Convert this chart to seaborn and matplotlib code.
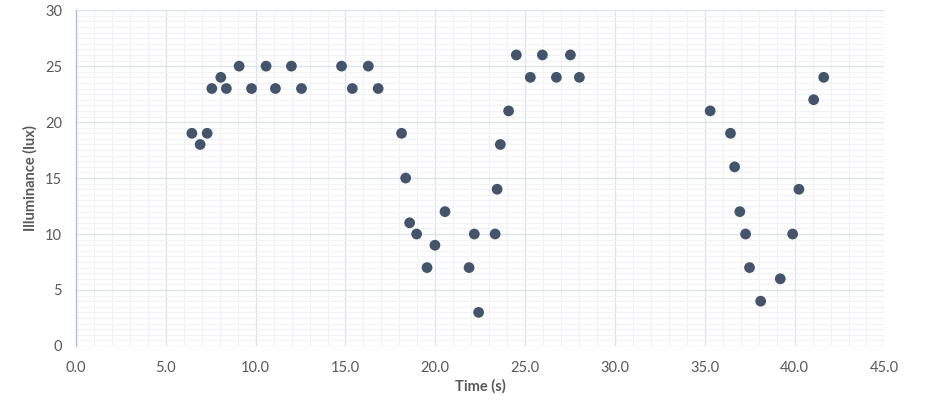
import matplotlib
matplotlib.use("Agg")
import matplotlib.pyplot as plt
import seaborn as sns
import pandas as pd
from matplotlib.ticker import MultipleLocator, FormatStrFormatter

time_s = [6.45, 6.91, 7.30, 7.56, 8.06, 8.37, 9.08, 9.77, 10.58, 11.10, 11.99, 12.55,
          14.78, 15.38, 16.27, 16.82, 18.12, 18.35, 18.57, 18.96, 19.54, 19.98, 20.54,
          21.88, 22.17, 22.41, 23.33, 23.44, 23.62, 24.08, 24.51, 25.29, 25.96, 26.74,
          27.52, 28.02, 35.30, 36.43, 36.66, 36.95, 37.27, 37.49, 38.11, 39.20, 39.89,
          40.24, 41.06, 41.62]
illuminance = [19, 18, 19, 23, 24, 23, 25, 23, 25, 23, 25, 23,
               25, 23, 25, 23, 19, 15, 11, 10, 7, 9, 12,
               7, 10, 3, 10, 14, 18, 21, 26, 24, 26, 24,
               26, 24, 21, 19, 16, 12, 10, 7, 4, 6, 10,
               14, 22, 24]

df = pd.DataFrame({"Time (s)": time_s, "Illuminance (lux)": illuminance})

sns.set_theme(style="white")
plt.rcParams["font.family"] = ["Lato", "DejaVu Sans"]

fig = plt.figure(figsize=(9.5, 4.07), dpi=100)
ax = fig.add_axes([0.080, 0.150, 0.851, 0.825])

sns.scatterplot(data=df, x="Time (s)", y="Illuminance (lux)", ax=ax,
                color="#44546A", s=60, edgecolor="none", zorder=3)

ax.set_xlim(0, 45)
ax.set_ylim(0, 30)
ax.xaxis.set_major_locator(MultipleLocator(5))
ax.xaxis.set_minor_locator(MultipleLocator(1))
ax.yaxis.set_major_locator(MultipleLocator(5))
ax.yaxis.set_minor_locator(MultipleLocator(0.5))
ax.xaxis.set_major_formatter(FormatStrFormatter("%.1f"))

ax.grid(which="major", color="#DEE2EA", linewidth=1.0, zorder=0)
ax.grid(which="minor", color="#F1F2F5", linewidth=0.8, zorder=0)
ax.set_axisbelow(True)

for side in ["top", "right", "bottom"]:
    ax.spines[side].set_visible(False)
ax.spines["left"].set_color("#B4C0D3")
ax.spines["left"].set_linewidth(1.0)

ax.tick_params(axis="both", which="both", length=0, labelsize=10.5,
               labelcolor="#595959")
ax.tick_params(axis="x", pad=11)
ax.tick_params(axis="y", pad=10)

ax.set_xlabel("Time (s)", fontsize=10.5, fontweight="bold", color="#595959", labelpad=3)
ax.set_ylabel("Illuminance (lux)", fontsize=10.5, fontweight="bold", color="#595959", labelpad=5)

fig.savefig("out.png", dpi=100, facecolor="white")
